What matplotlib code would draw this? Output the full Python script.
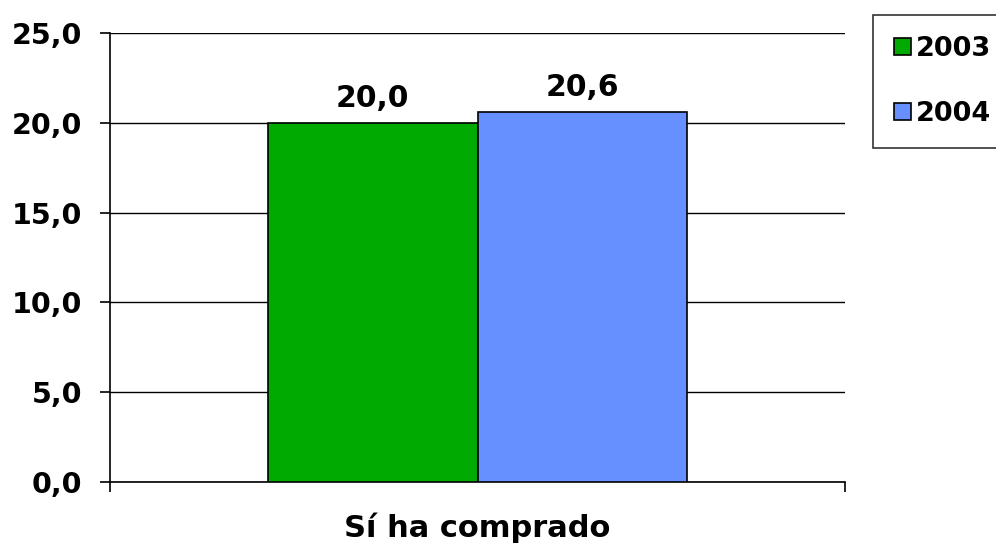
import numpy as np
import matplotlib.pyplot as plt

categoria = 'Sí ha comprado'
anios = ['2003', '2004']
valores = [20.0, 20.6]
colores = ['#00AA00', '#6690FF']
yticks = [0, 5, 10, 15, 20, 25]

fig = plt.figure(figsize=(9.96, 5.45), dpi=100)
ax = fig.add_axes([110/996, 1-482/545, 735/996, 449/545])

ancho = 0.2857
pos = [0.5 - ancho/2, 0.5 + ancho/2]
for p, v, c, a in zip(pos, valores, colores, anios):
    ax.bar(p, v, width=ancho, color=c, edgecolor='black', linewidth=1.2, zorder=3, label=a)
    ax.text(p, v + 0.55, f'{v:.1f}'.replace('.', ','), ha='center', va='bottom',
            fontsize=21.5, fontweight='bold', zorder=4)

ax.set_xlim(0, 1)
ax.set_ylim(0, 25)
ax.set_yticks(yticks)
ax.set_yticklabels([f'{t:.1f}'.replace('.', ',') for t in yticks], fontsize=20.5, fontweight='bold')
ax.yaxis.grid(True, color='black', linewidth=1, zorder=0)
ax.set_xticks([0, 1])
ax.set_xticklabels(['', ''])
ax.tick_params(axis='both', direction='out', length=7.2, width=1.2, color='black')
ax.tick_params(axis='y', pad=13)
ax.set_xlabel(categoria, fontsize=22, fontweight='bold', labelpad=11)
for s in ['top', 'right']:
    ax.spines[s].set_visible(False)
for s in ['left', 'bottom']:
    ax.spines[s].set_linewidth(1.2)

leg = fig.legend(loc='upper left', bbox_to_anchor=(873/996, 1-15/545),
                 prop={'size': 19.5, 'weight': 'bold'}, frameon=True, fancybox=False,
                 edgecolor='black', labelspacing=1.44, handlelength=0.63, handleheight=0.63,
                 handletextpad=0.18, borderpad=0.78, borderaxespad=0)
leg.get_frame().set_linewidth(1.2)

fig.savefig('out.png', dpi=100)
